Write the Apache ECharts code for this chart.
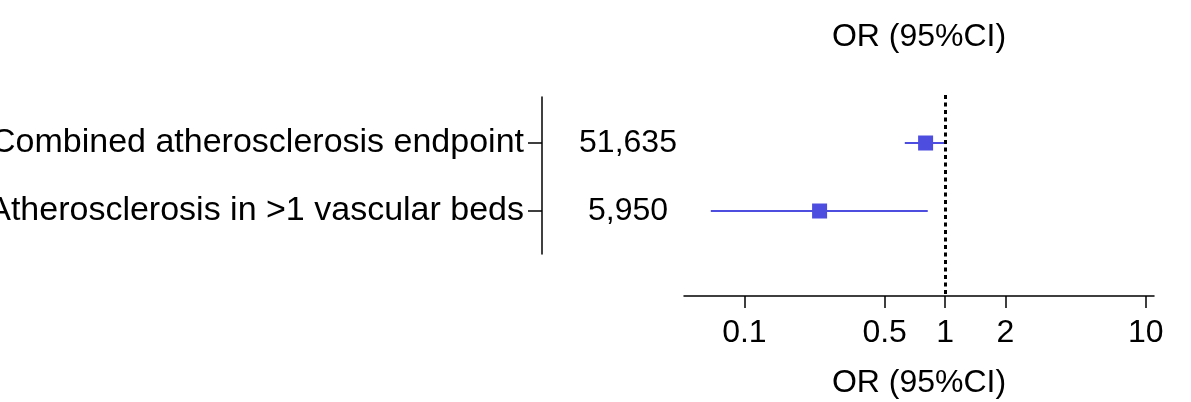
<!DOCTYPE html>
<html>
<head>
<meta charset="utf-8">
<script src="https://cdn.jsdelivr.net/npm/echarts@6/dist/echarts.min.js"></script>
<style>
  html, body { margin: 0; padding: 0; background: #fff; }
  #chart { width: 1191px; height: 402px; }
</style>
</head>
<body>
<div id="chart"></div>
<script>
const FONT = "'Liberation Sans', Arial, sans-serif"
const BLUE = '#4d4de0'
const INK = '#000'

// rows, top to bottom
const outcomes = ['Combined atherosclerosis endpoint', 'Atherosclerosis in >1 vascular beds']
const sampleSizes = ['51,635', '5,950']
const oddsRatios = [0.80, 0.237]
const ciLower = [0.63, 0.068]
const ciUpper = [0.99, 0.82]
const orTicks = [0.1, 0.5, 1, 2, 10]

const rowIndex = outcomes.map((_, i) => i + 1)
const pointData = rowIndex.map((row, i) => [oddsRatios[i], row])
const ciData = rowIndex.map((row, i) => [ciLower[i], ciUpper[i], row])

const chart = echarts.init(document.getElementById('chart'))

chart.setOption({
  animation: false,
  textStyle: { fontFamily: FONT },
  grid: [
    { left: 541, width: 1, top: 97, height: 157 },
    { left: 684, right: 37, top: 95, bottom: 106 }
  ],
  xAxis: [
    { gridIndex: 0, type: 'value', show: false },
    {
      gridIndex: 1,
      type: 'log',
      logBase: 10,
      min: 0.05,
      max: 11,
      name: 'OR (95%CI)',
      nameLocation: 'middle',
      nameGap: 71,
      nameTextStyle: { fontSize: 32, color: INK, fontFamily: FONT },
      axisLine: { lineStyle: { color: INK, width: 1.5 } },
      axisTick: { customValues: orTicks, length: 12, lineStyle: { color: INK, width: 1.5 } },
      axisLabel: {
        customValues: orTicks,
        margin: 21,
        fontSize: 32,
        color: INK,
        fontFamily: FONT,
        formatter: (v) => String(v)
      },
      splitLine: { show: false }
    },
    {
      gridIndex: 1,
      type: 'log',
      position: 'top',
      min: 0.05,
      max: 11,
      name: 'OR (95%CI)',
      nameLocation: 'middle',
      nameGap: 42,
      nameTextStyle: { fontSize: 32, color: INK, fontFamily: FONT },
      axisLine: { show: false },
      axisTick: { show: false },
      axisLabel: { show: false },
      splitLine: { show: false }
    }
  ],
  yAxis: [
    {
      gridIndex: 0,
      type: 'value',
      inverse: true,
      min: 0.3235,
      max: 2.632,
      axisLine: { show: true, lineStyle: { color: INK, width: 1.5 } },
      axisTick: { show: true, customValues: rowIndex, length: 14, lineStyle: { color: INK, width: 1.5 } },
      axisLabel: {
        customValues: rowIndex,
        margin: 18,
        fontSize: 34,
        color: INK,
        fontFamily: FONT,
        formatter: (v) => outcomes[Math.round(v) - 1]
      },
      splitLine: { show: false }
    },
    {
      gridIndex: 1,
      type: 'value',
      inverse: true,
      min: 0.294,
      max: 3.25,
      axisLine: { show: false },
      axisTick: { show: false },
      axisLabel: {
        customValues: rowIndex,
        margin: 56,
        align: 'center',
        fontSize: 32,
        color: INK,
        fontFamily: FONT,
        formatter: (v) => sampleSizes[Math.round(v) - 1]
      },
      splitLine: { show: false }
    }
  ],
  series: [
    {
      type: 'custom',
      xAxisIndex: 1,
      yAxisIndex: 1,
      data: ciData,
      renderItem: (params, api) => {
        const a = api.coord([api.value(0), api.value(2)])
        const b = api.coord([api.value(1), api.value(2)])
        return {
          type: 'line',
          shape: { x1: a[0], y1: a[1], x2: b[0], y2: b[1] },
          style: { stroke: BLUE, lineWidth: 2 }
        }
      },
      markLine: {
        silent: true,
        symbol: 'none',
        label: { show: false },
        lineStyle: { color: '#000', width: 3, type: [4, 3.5] },
        data: [{ xAxis: 1 }]
      },
      z: 2
    },
    {
      type: 'scatter',
      xAxisIndex: 1,
      yAxisIndex: 1,
      symbol: 'rect',
      symbolSize: 15,
      itemStyle: { color: BLUE, opacity: 1 },
      data: pointData,
      z: 3
    }
  ]
})
</script>
</body>
</html>
